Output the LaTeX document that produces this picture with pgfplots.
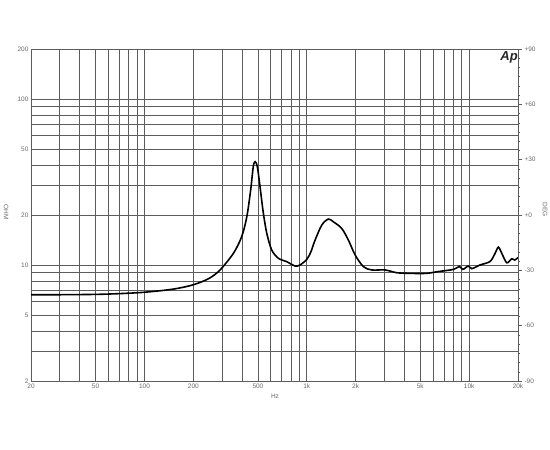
\documentclass[border=0pt]{standalone}
\usepackage{pgfplots}
\pgfplotsset{compat=1.18}
\usepackage{fontspec}
\setmainfont{Liberation Sans}
\definecolor{gridc}{gray}{0.36}
\definecolor{labc}{gray}{0.42}
\begin{document}
\begin{tikzpicture}
\path[use as bounding box, fill=white] (0,0) rectangle (550pt,-450pt);
\begin{axis}[
 at={(31pt,-49pt)}, anchor=north west,
 width=487pt, height=332pt, scale only axis,
 xmode=log, ymode=log,
 xmin=20, xmax=20000, ymin=2, ymax=200,
 xtick={20,50,100,200,500,1000,2000,5000,10000,20000},
 xticklabels={20,50,100,200,500,1k,2k,5k,10k,20k},
 ytick={2,5,10,20,50,100,200},
 yticklabels={2,5,10,20,50,100,200},
 minor xtick={30,40,60,70,80,90,300,400,600,700,800,900,3000,4000,6000,7000,8000,9000},
 minor ytick={3,4,6,7,8,9,30,40,60,70,80,90},
 grid=both,
 major grid style={gridc, line width=0.8pt},
 minor grid style={gridc, line width=0.8pt},
 axis line style={gridc, line width=0.8pt},
 major tick length=0pt, minor tick length=0pt,
 tick style={draw=none},
 tick label style={font=\fontsize{6.5}{7}\selectfont, text=labc},
 xticklabel style={yshift=1pt},
 yticklabel style={xshift=1pt},
]
\addplot[black, line width=1.6pt, smooth, tension=0.5] coordinates {
(20,6.62) (30,6.62) (50,6.65) (70,6.72) (100,6.85) (150,7.15) (200,7.6) (250,8.3)
(292,9.33) (353,11.75) (397,14.8) (427,19.5) (451,28.3) (468,39.1) (480,41.9)
(496,39) (515,29.6) (540,20.5) (567,15.5) (608,12.3) (668,10.97) (752,10.47)
(846,9.86) (908,10.0) (999,10.8) (1060,12.0) (1124,14.1) (1237,17.4) (1358,18.9)
(1458,18.2) (1641,16.6) (1805,14.1) (1984,11.5) (2232,9.77) (2515,9.33) (3036,9.33)
(3584,8.98) (4326,8.9) (5485,8.9) (6320,9.1) (8000,9.4) (8710,9.8) (9140,9.4)
(9890,9.86) (10380,9.5) (11680,10) (13460,10.5) (14450,11.75) (15140,12.8)
(15890,11.75) (17060,10.3) (18300,10.9) (19100,10.7) (20000,11.1)
};
\end{axis}
\begin{axis}[
 at={(31pt,-49pt)}, anchor=north west,
 width=487pt, height=332pt, scale only axis,
 xmin=0, xmax=1, ymin=-90, ymax=90,
 axis x line=none, axis y line*=right,
 axis line style={gridc, line width=0.8pt},
 ytick={-90,-60,-30,0,30,60,90},
 yticklabels={-90,-60,-30,+0,+30,+60,+90},
 minor y tick num=5,
 tick align=outside,
 major tick length=4pt, minor tick length=2pt,
 tick style={gridc, line width=0.5pt},
 tick label style={font=\fontsize{6.5}{7}\selectfont, text=labc},
 yticklabel style={xshift=-1pt},
]
\end{axis}
\node[font=\fontsize{6.5}{7}\selectfont, text=labc, rotate=-90] at (6pt,-212pt) {OHM};
\node[font=\fontsize{6.5}{7}\selectfont, text=labc, rotate=-90] at (545pt,-210pt) {DEG};
\node[font=\fontsize{6.5}{7}\selectfont, text=labc] at (275pt,-396pt) {Hz};
\node[font=\fontsize{13}{14}\selectfont\bfseries\itshape, text=black!85, inner sep=0pt, anchor=north east] at (518pt,-51pt) {Ap};
\end{tikzpicture}
\end{document}
